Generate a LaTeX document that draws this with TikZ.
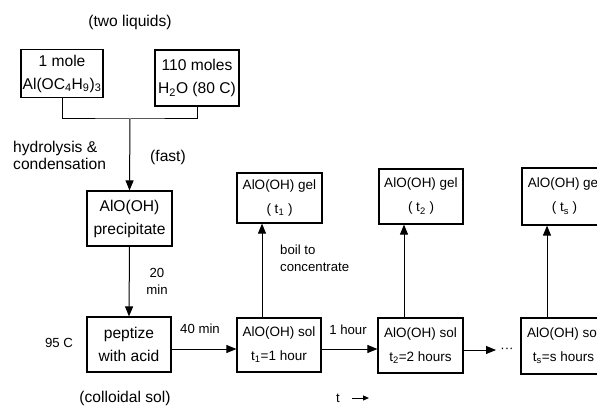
\documentclass[tikz,border=0pt]{standalone}
\usepackage{fontspec}
\setmainfont{Liberation Sans}
\usetikzlibrary{arrows.meta}
\begin{document}
\begin{tikzpicture}[x=1pt,y=-1pt,
  box/.style={draw,line width=1.2pt,inner sep=0pt,align=center},
  big/.style={font=\fontsize{15.6}{23}\selectfont},
  small/.style={font=\fontsize{13.5}{24}\selectfont},
  lab/.style={font=\fontsize{13.2}{17}\selectfont,inner sep=0pt,align=center},
  captext/.style={font=\fontsize{15.6}{17}\selectfont,inner sep=0pt,align=center},
  conn/.style={line width=1pt},
  arr/.style={line width=1pt,-{Triangle[length=10pt,width=8pt]}}]
\useasboundingbox (0,0) rectangle (597,406);
\clip (0,0) rectangle (597,406);
% top boxes
\node[box,big,minimum width=82pt,minimum height=48pt] (a) at (62,73.5) {1 mole\\Al(OC\textsubscript{4}H\textsubscript{9})\textsubscript{3}};
\node[box,big,minimum width=84pt,minimum height=56pt] (b) at (197,78) {110 moles\\H\textsubscript{2}O (80 C)};
\node[captext] (twol) at (130,22) {(two liquids)};
\coordinate (j) at (130,119);
\draw[conn] (a.south) |- (j) -| (b.south);
% left column
\node[box,big,minimum width=85pt,minimum height=55pt] (p) at (129.5,218.5) {AlO(OH)\\precipitate};
\node[box,big,minimum width=84pt,minimum height=55pt] (q) at (129,344.5) {peptize\\with acid};
\draw[arr] (j) -- (p.north);
\draw[arr] (p.south) -- (q.north);
\node[captext,align=left,anchor=west] (hyd) at (13,155) {hydrolysis \&\\condensation};
\node[captext] (fast) at (168,157) {(fast)};
\node[lab] (min20) at (157,281.5) {20\\min};
\node[lab] (t95) at (59,343) {95 C};
\node[captext] (coll) at (125,398) {(colloidal sol)};
% sols and gels
\node[box,small,minimum width=84pt,minimum height=54pt] (s1) at (279,345) {AlO(OH) sol\\t\textsubscript{1}=1 hour};
\node[box,small,minimum width=85pt,minimum height=50pt] (g1) at (279.5,198) {AlO(OH) gel\\( t\textsubscript{1} )};
\node[box,small,minimum width=85pt,minimum height=55pt] (s2) at (420.5,345.5) {AlO(OH) sol\\t\textsubscript{2}=2 hours};
\node[box,small,minimum width=84pt,minimum height=55pt] (g2) at (421,196.5) {AlO(OH) gel\\( t\textsubscript{2} )};
\node[box,small,minimum width=85pt,minimum height=56pt] (s3) at (563.5,346) {AlO(OH) sol\\t\textsubscript{s}=s hours};
\node[box,small,minimum width=85pt,minimum height=57pt] (g3) at (564.5,196.5) {AlO(OH) gel\\( t\textsubscript{s} )};
\draw[arr] (q.east |- 0,349) -- (s1.west |- 0,349);
\draw[arr] (s1.east |- 0,349) -- (s2.west |- 0,349);
\coordinate (d) at (496,350);
\draw[arr] (s2.east |- 0,350) -- (d);
\node[lab] (dots) at (507,350) {···};
\draw[arr] (s1.north -| 262,0) -- (g1.south -| 262,0);
\draw[arr] (s2.north -| 404,0) -- (g2.south -| 404,0);
\draw[arr] (s3.north -| 547,0) -- (g3.south -| 547,0);
\node[lab] (min40) at (200,329) {40 min};
\node[lab] (hr1) at (348,330) {1 hour};
\node[lab,align=left,anchor=west] (boil) at (280,258.5) {boil to\\concentrate};
% time axis
\node[lab] (t) at (338,398) {t};
\coordinate (t1) at (352,398);
\coordinate (t2) at (369,398);
\draw[line width=1pt,-{Triangle[length=6pt,width=5pt]}] (t1) -- (t2);
\end{tikzpicture}
\end{document}
